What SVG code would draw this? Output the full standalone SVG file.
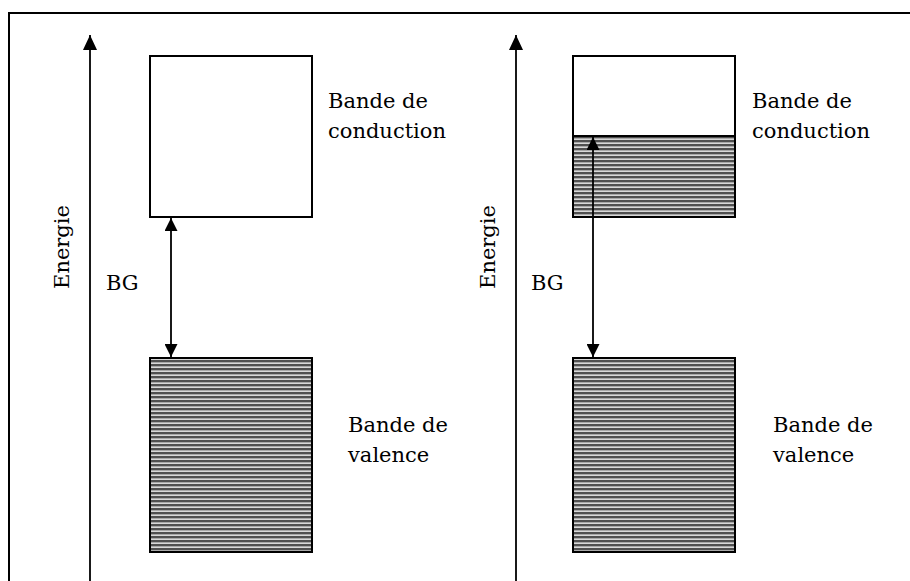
<svg xmlns="http://www.w3.org/2000/svg" width="910" height="581" viewBox="0 0 910 581">
<defs>
<style>
.ln{stroke:#000;stroke-width:1.8;fill:none}
.box{stroke:#000;stroke-width:2;fill:#fff}
.hb{stroke:#000;stroke-width:2;fill:url(#hatch)}
.t{font-family:"DejaVu Serif",serif;font-size:21px;fill:#000}
</style>
<pattern id="hatch" patternUnits="userSpaceOnUse" x="0" y="0" width="8" height="4">
<rect x="0" y="0" width="8" height="4" fill="#a8a8a8"/>
<rect x="0" y="0" width="8" height="2" fill="#505050"/>
<rect x="0" y="3" width="8" height="1" fill="#d8d8d8"/>
</pattern>
<marker id="ah" viewBox="0 0 15 14" refX="15" refY="7" markerWidth="15" markerHeight="14" markerUnits="userSpaceOnUse" orient="auto">
<path d="M0,0 L15,7 L0,14 Z" fill="#000"/>
</marker>
<marker id="ahs" viewBox="0 0 13 13" refX="13" refY="6.5" markerWidth="13" markerHeight="13" markerUnits="userSpaceOnUse" orient="auto-start-reverse">
<path d="M0,0 L13,6.5 L0,13 Z" fill="#000"/>
</marker>
</defs>
<rect x="9" y="13" width="910" height="600" fill="none" stroke="#000" stroke-width="2"/>
<g id="left-conduction">
<rect class="box" x="150" y="56" width="162" height="161"/>
<text class="t" x="328" y="108">Bande de</text>
<text class="t" x="328" y="138">conduction</text>
</g>
<g id="left-valence">
<rect class="hb" x="150" y="358" width="162" height="194"/>
<text class="t" x="348" y="432">Bande de</text>
<text class="t" x="348" y="462">valence</text>
</g>
<g id="left-labels">
<text class="t" transform="translate(69,247) rotate(-90)" text-anchor="middle">Energie</text>
<text class="t" x="106" y="290">BG</text>
</g>
<g id="right-conduction">
<rect class="box" x="573" y="56" width="162" height="161"/>
<rect x="573" y="136" width="162" height="81" fill="url(#hatch)" stroke="#000" stroke-width="2"/>
<text class="t" x="752" y="108">Bande de</text>
<text class="t" x="752" y="138">conduction</text>
</g>
<g id="right-valence">
<rect class="hb" x="573" y="358" width="162" height="194"/>
<text class="t" x="773" y="432">Bande de</text>
<text class="t" x="773" y="462">valence</text>
</g>
<g id="right-labels">
<text class="t" transform="translate(495,247) rotate(-90)" text-anchor="middle">Energie</text>
<text class="t" x="531" y="290">BG</text>
</g>
<g id="connectors">
<line class="ln" x1="90" y1="581" x2="90" y2="35" marker-end="url(#ah)"/>
<line class="ln" x1="516" y1="581" x2="516" y2="35" marker-end="url(#ah)"/>
<line class="ln" x1="171" y1="218" x2="171" y2="357" marker-start="url(#ahs)" marker-end="url(#ahs)"/>
<line class="ln" x1="593" y1="357" x2="593" y2="137" marker-start="url(#ahs)" marker-end="url(#ahs)"/>
</g>
</svg>
